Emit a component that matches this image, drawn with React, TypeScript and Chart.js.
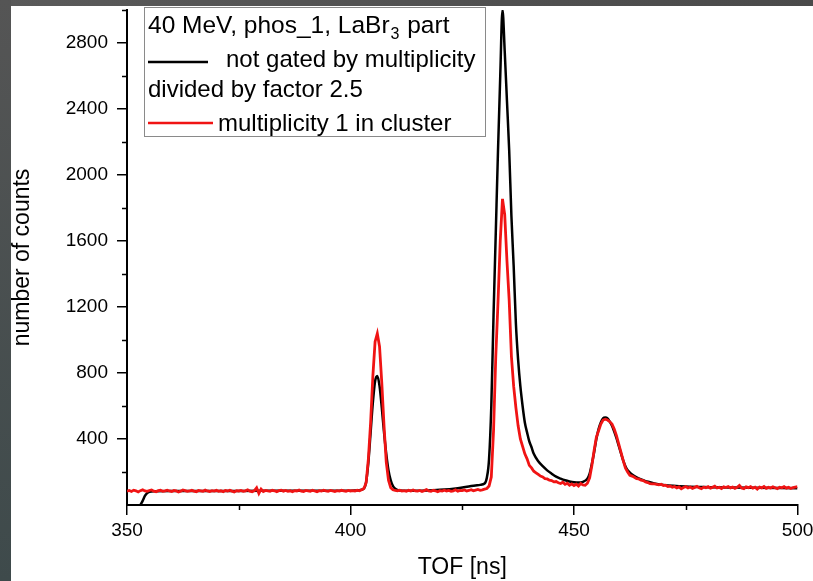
import React, { useEffect, useRef } from 'react';
import { Chart, registerables } from 'chart.js';

Chart.register(...registerables);

// ---- axis ticks ----
const xMajorTicks = [350, 400, 450, 500];
const xMinorTicks = [375, 425, 475];
const yMajorTicks = [400, 800, 1200, 1600, 2000, 2400, 2800];
const yMinorTicks = [200, 600, 1000, 1400, 1800, 2200, 2600, 3000];

// ---- red series: multiplicity 1 in cluster (bins of 0.5 ns from 350 ns) ----
const redStartTof = 350;
const redBinWidth = 0.5;
const redCounts = [
  84, 88, 82, 90, 86, 79, 87, 92, 85, 83, // 350
  88, 91, 84, 80, 87, 89, 83, 86, 90, 85, // 355
  82, 88, 86, 79, 84, 91, 87, 83, 85, 89, // 360
  84, 80, 88, 86, 83, 90, 85, 82, 87, 84, // 365
  89, 83, 86, 81, 88, 85, 90, 84, 79, 87, // 370
  85, 88, 83, 86, 92, 84, 80, 87, 104, 70, // 375
  96, 82, 88, 85, 83, 89, 86, 81, 87, 90, // 380
  84, 88, 83, 86, 80, 87, 85, 91, 84, 82, // 385
  88, 86, 83, 89, 85, 80, 87, 84, 90, 86, // 390
  83, 88, 85, 81, 87, 84, 89, 86, 83, 88, // 395
  85, 87, 84, 90, 86, 92, 100, 135, 280, 500, // 400
  780, 990, 1040, 960, 740, 480, 260, 150, 105, 92, // 405
  88, 86, 90, 84, 87, 83, 89, 85, 91, 86, // 410
  84, 88, 82, 87, 93, 85, 83, 89, 86, 80, // 415
  87, 84, 90, 85, 88, 83, 86, 92, 84, 89, // 420
  87, 91, 85, 88, 93, 86, 90, 94, 89, 92, // 425
  96, 100, 115, 170, 450, 900, 1230, 1600, 1855, 1760, // 430
  1480, 1240, 900, 720, 590, 480, 400, 355, 310, 280, // 435
  240, 225, 205, 195, 185, 175, 170, 160, 158, 150, // 440
  148, 140, 142, 135, 130, 138, 125, 132, 120, 128, // 445
  118, 126, 115, 130, 122, 120, 132, 165, 240, 330, // 450
  410, 450, 490, 515, 520, 515, 505, 490, 460, 420, // 455
  370, 320, 270, 225, 200, 180, 175, 168, 160, 158, // 460
  150, 148, 140, 136, 130, 128, 128, 125, 122, 126, // 465
  118, 120, 112, 115, 108, 112, 104, 110, 98, 106, // 470
  112, 103, 109, 101, 107, 113, 104, 99, 108, 105, // 475
  111, 102, 107, 114, 103, 108, 100, 110, 106, 112, // 480
  104, 109, 101, 107, 118, 103, 99, 110, 105, 111, // 485
  102, 108, 96, 109, 104, 112, 101, 107, 103, 110, // 490
  105, 99, 108, 104, 111, 102, 107, 100, 106, 109, // 495
  112, // 500
];

// ---- black series: not gated by multiplicity, divided by 2.5 ----
const blackTof = [
  353, 353.5, 354, 354.5, 355, 356, 360, 370, 380, 390, 400, 402, 403, 403.5,
  404, 404.5, 405, 405.5, 406, 406.5, 407, 407.5, 408, 408.5, 409, 409.5, 410,
  411, 415, 420, 424, 427, 429, 430, 430.5, 431, 431.5, 432, 432.5, 433, 433.5,
  434, 434.5, 435, 435.5, 436, 436.5, 437, 437.5, 438, 438.5, 439, 439.5, 440,
  440.5, 441, 442, 443, 444, 445, 446, 447, 448, 449, 450, 451, 452, 453, 453.5,
  454, 454.5, 455, 455.5, 456, 456.5, 457, 457.5, 458, 458.5, 459, 459.5, 460,
  460.5, 461, 461.5, 462, 463, 464, 465, 466, 467, 468, 470, 475, 480, 490, 500,
];
const blackCounts = [
  0, 25, 55, 72, 80, 84, 85, 85, 86, 86, 87, 90, 100, 140,
  260, 440, 620, 750, 782, 720, 590, 440, 310, 210, 150, 115, 98,
  88, 86, 92, 102, 115, 122, 130, 165, 280, 600, 1150, 1650, 2150, 2600,
  3000, 2750, 2450, 2150, 1750, 1450, 1100, 880, 720, 600, 500, 440, 385,
  350, 310, 265, 235, 210, 190, 172, 160, 150, 143, 138, 136, 140, 160, 190,
  250, 320, 400, 460, 500, 525, 530, 525, 505, 480, 445, 405, 360,
  315, 270, 235, 210, 185, 168, 155, 145, 138, 130, 122, 112, 108, 104, 102,
];

// ---- texts ----
const xTitle = 'TOF [ns]';
const yTitle = 'number of counts';
const legendHead = '40 MeV, phos_1, LaBr';
const legendSub = '3';
const legendTail = ' part';
const legendBlack = 'not gated by multiplicity';
const legendBlack2 = 'divided by factor 2.5';
const legendRed = 'multiplicity 1 in cluster';

const FONT = '"Liberation Sans", Arial, Helvetica, sans-serif';
const RED = '#f01414';

const decorPlugin = {
  id: 'decor',
  beforeDraw(chart: any) {
    const { ctx, width, height } = chart;
    ctx.save();
    const g = ctx.createLinearGradient(0, 0, 0, height);
    g.addColorStop(0, '#555555');
    g.addColorStop(1, '#3e4a4b');
    ctx.fillStyle = g;
    ctx.fillRect(0, 0, width, height);
    const t = ctx.createLinearGradient(0, 0, width, 0);
    t.addColorStop(0, '#5a5a5a');
    t.addColorStop(1, '#4a4a4a');
    ctx.fillStyle = t;
    ctx.fillRect(11, 0, width - 11, 6);
    ctx.fillStyle = '#ffffff';
    ctx.fillRect(11, 6, width - 11, height - 6);
    ctx.restore();
  },
  afterDraw(chart: any) {
    const { ctx } = chart;
    const xs = chart.scales.x;
    const ys = chart.scales.y;
    const area = chart.chartArea;
    ctx.save();
    // minor ticks
    ctx.strokeStyle = '#000';
    ctx.lineWidth = 1.5;
    ctx.beginPath();
    for (const v of xMinorTicks) {
      const px = Math.round(xs.getPixelForValue(v)) + 0.5;
      ctx.moveTo(px, area.bottom);
      ctx.lineTo(px, area.bottom + 5);
    }
    for (const v of yMinorTicks) {
      const py = Math.round(ys.getPixelForValue(v)) + 0.5;
      ctx.moveTo(area.left, py);
      ctx.lineTo(area.left - 5, py);
    }
    ctx.stroke();

    // legend box
    const bx = 144, by = 7, bw = 342, bh = 130;
    ctx.fillStyle = '#ffffff';
    ctx.fillRect(bx, by, bw, bh);
    ctx.strokeStyle = '#8a8a8a';
    ctx.lineWidth = 1;
    ctx.strokeRect(bx + 0.5, by + 0.5, bw - 1, bh - 1);

    ctx.fillStyle = '#000';
    ctx.textBaseline = 'alphabetic';
    ctx.textAlign = 'left';
    ctx.font = `24.5px ${FONT}`;
    let tx = 148;
    ctx.fillText(legendHead, tx, 33);
    tx += ctx.measureText(legendHead).width + 1;
    ctx.font = `16px ${FONT}`;
    ctx.fillText(legendSub, tx, 39);
    tx += ctx.measureText(legendSub).width + 1;
    ctx.font = `24.5px ${FONT}`;
    ctx.fillText(legendTail, tx, 33);

    ctx.font = `24px ${FONT}`;
    ctx.lineWidth = 2.5;
    ctx.strokeStyle = '#000';
    ctx.beginPath();
    ctx.moveTo(148, 62);
    ctx.lineTo(208, 62);
    ctx.stroke();
    ctx.fillText(legendBlack, 226, 67);
    ctx.fillText(legendBlack2, 148, 97);

    ctx.strokeStyle = RED;
    ctx.beginPath();
    ctx.moveTo(148, 123);
    ctx.lineTo(213, 123);
    ctx.stroke();
    ctx.fillText(legendRed, 218, 131);
    ctx.restore();
  },
};

export default function App() {
  const ref = useRef<HTMLCanvasElement | null>(null);

  useEffect(() => {
    if (!ref.current) return;
    const redData = redCounts.map((c, i) => ({ x: redStartTof + i * redBinWidth, y: c }));
    const blackData = blackTof.map((t, i) => ({ x: t, y: blackCounts[i] }));

    const chart = new Chart(ref.current, {
      type: 'line',
      data: {
        datasets: [
          {
            label: legendRed,
            data: redData,
            borderColor: RED,
            borderWidth: 2.8,
            pointRadius: 0,
            tension: 0,
            fill: false,
          },
          {
            label: legendBlack,
            data: blackData,
            borderColor: '#000000',
            borderWidth: 2.5,
            pointRadius: 0,
            cubicInterpolationMode: 'monotone',
            fill: false,
          },
        ],
      },
      options: {
        animation: false,
        responsive: false,
        devicePixelRatio: 1,
        layout: { padding: { top: 10, right: 15.5, bottom: 0, left: 0 } },
        plugins: {
          legend: { display: false },
          tooltip: { enabled: false },
          title: { display: false },
        },
        scales: {
          x: {
            type: 'linear',
            min: 350,
            max: 500,
            afterBuildTicks: (s: any) => {
              s.ticks = xMajorTicks.map((v) => ({ value: v }));
            },
            afterFit: (s: any) => {
              s.height = 76;
              s.paddingLeft = 0;
              s.paddingRight = 0;
              s.paddingTop = 0;
              s.paddingBottom = 0;
            },
            ticks: {
              color: '#000',
              padding: 4,
              font: { family: FONT, size: 19 },
              maxRotation: 0,
              callback: (v: any) => String(v),
            },
            grid: {
              drawOnChartArea: false,
              drawTicks: true,
              tickLength: 10,
              color: '#000',
              lineWidth: 1.5,
            },
            border: { display: true, color: '#000', width: 2 },
            title: {
              display: true,
              text: xTitle,
              color: '#000',
              font: { family: FONT, size: 23 },
              padding: { top: 0, bottom: 0 },
            },
          },
          y: {
            type: 'linear',
            min: 0,
            max: 3000,
            afterBuildTicks: (s: any) => {
              s.ticks = yMajorTicks.map((v) => ({ value: v }));
            },
            afterFit: (s: any) => {
              s.width = 127;
              s.paddingLeft = 0;
              s.paddingRight = 0;
              s.paddingTop = 0;
              s.paddingBottom = 0;
            },
            ticks: {
              color: '#000',
              padding: 9,
              font: { family: FONT, size: 19 },
              callback: (v: any) => String(v),
            },
            grid: {
              drawOnChartArea: false,
              drawTicks: true,
              tickLength: 10,
              color: '#000',
              lineWidth: 1.5,
            },
            border: { display: true, color: '#000', width: 2 },
            title: {
              display: true,
              text: yTitle,
              color: '#000',
              font: { family: FONT, size: 23 },
              padding: { top: 9, bottom: 0 },
            },
          },
        },
      },
      plugins: [decorPlugin],
    } as any);

    return () => chart.destroy();
  }, []);

  return (
    <div style={{ position: 'fixed', left: 0, top: 0, width: 813, height: 581 }}>
      <canvas ref={ref} width={813} height={581} style={{ display: 'block' }} />
    </div>
  );
}
